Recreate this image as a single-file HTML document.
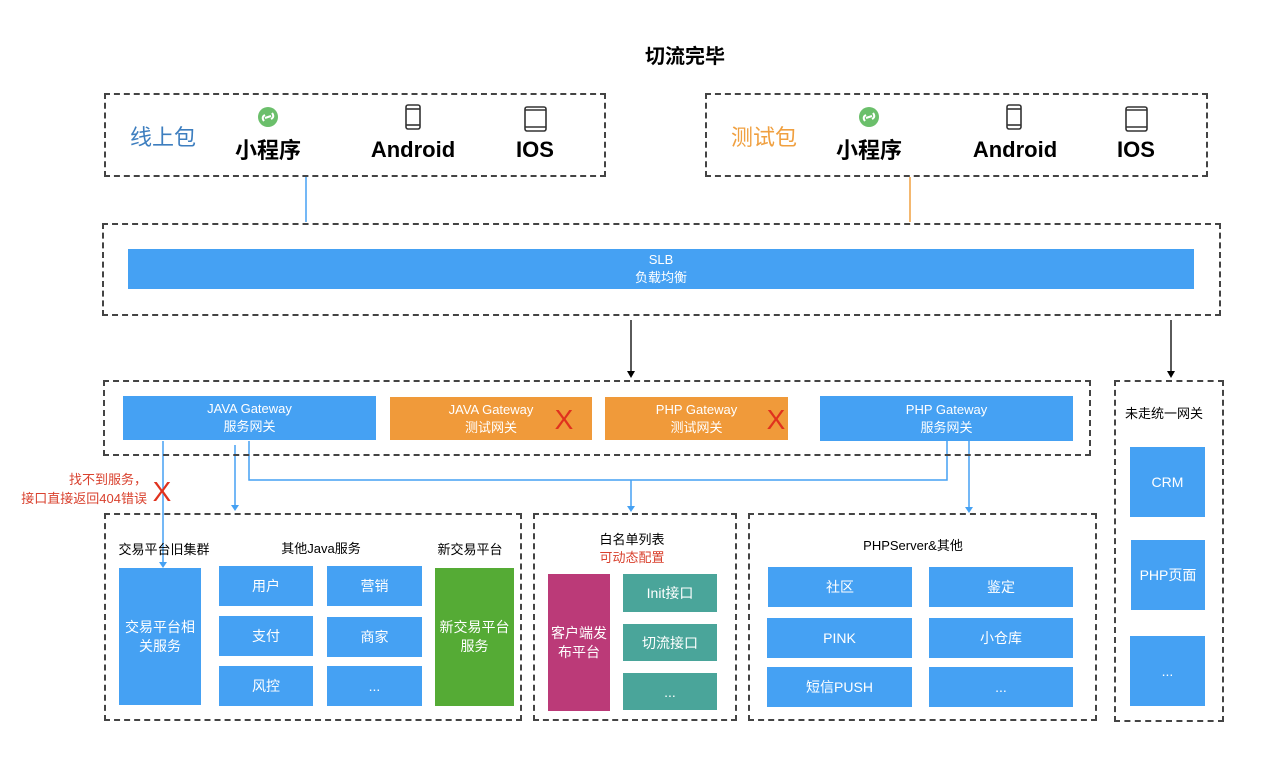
<!DOCTYPE html>
<html><head><meta charset="utf-8"><style>
body{margin:0;width:1280px;height:763px;background:#fff;position:relative;overflow:hidden;font-family:"Liberation Sans","Noto Sans CJK SC",sans-serif;}
.a{position:absolute;box-sizing:border-box;}
.d{border:2px dashed #444;}
.b{background:#45a1f3;color:#fff;display:flex;align-items:center;justify-content:center;text-align:center;font-size:14px;line-height:18px;}
.o{background:#f09a3a;}
.t{position:absolute;transform:translateX(-50%);white-space:nowrap;text-align:center;}
.x{position:absolute;color:#e0321e;font-size:28px;font-family:"Liberation Sans",sans-serif;transform:translate(-50%,-50%);}
</style></head><body>
<div class="t" style="left:685px;top:40px;font-size:20px;font-weight:bold;">切流完毕</div>

<div class="a d" style="left:104px;top:93px;width:502px;height:84px;"></div>
<div class="a d" style="left:705px;top:93px;width:503px;height:84px;"></div>
<div class="t" style="left:163px;top:120px;font-size:22px;color:#3d7ebf;">线上包</div>
<div class="t" style="left:764px;top:120px;font-size:22px;color:#f0a040;">测试包</div>

<svg class="a" style="left:0;top:0" width="1280" height="763">
<g fill="#6bbf6b"><circle cx="268" cy="117" r="10"/><circle cx="869" cy="117" r="10"/></g>
<g stroke="#fff" stroke-width="2" fill="none"><path d="M264 121 q-3 -4 1 -6 M272 113 q3 4 -1 6 M265 118 l6 -2"/><path d="M865 121 q-3 -4 1 -6 M873 113 q3 4 -1 6 M866 118 l6 -2"/></g>
<g stroke="#333" stroke-width="1.6" fill="none">
<rect x="406" y="105" width="14" height="24" rx="2"/><line x1="406" y1="109" x2="420" y2="109"/><line x1="406" y1="125" x2="420" y2="125"/>
<rect x="1007" y="105" width="14" height="24" rx="2"/><line x1="1007" y1="109" x2="1021" y2="109"/><line x1="1007" y1="125" x2="1021" y2="125"/>
<rect x="525" y="107" width="21" height="24" rx="2"/><line x1="525" y1="110" x2="546" y2="110"/><line x1="525" y1="127" x2="546" y2="127"/>
<rect x="1126" y="107" width="21" height="24" rx="2"/><line x1="1126" y1="110" x2="1147" y2="110"/><line x1="1126" y1="127" x2="1147" y2="127"/>
</g>
<line x1="306" y1="177" x2="306" y2="222" stroke="#45a1f3" stroke-width="1.5"/>
<line x1="910" y1="177" x2="910" y2="222" stroke="#f0a040" stroke-width="1.5"/>
<g stroke="#000" stroke-width="1.3"><line x1="631" y1="320" x2="631" y2="372"/><line x1="1171" y1="320" x2="1171" y2="372"/></g>
<g fill="#000"><path d="M627 371 L635 371 L631 378Z"/><path d="M1167 371 L1175 371 L1171 378Z"/></g>
<g stroke="#45a1f3" stroke-width="1.5" fill="none">
<path d="M163 441 V563"/><path d="M235 445 V506"/><path d="M249 441 V480 H947 V441"/><path d="M631 480 V507"/><path d="M969 441 V508"/>
</g>
<g fill="#45a1f3"><path d="M159 562 L167 562 L163 568Z"/><path d="M231 505 L239 505 L235 511Z"/><path d="M627 506 L635 506 L631 512Z"/><path d="M965 507 L973 507 L969 513Z"/></g>
</svg>

<div class="t" style="left:268px;top:133px;font-size:22px;font-weight:bold;">小程序</div>
<div class="t" style="left:413px;top:137px;font-size:22px;font-weight:bold;">Android</div>
<div class="t" style="left:535px;top:137px;font-size:22px;font-weight:bold;">IOS</div>
<div class="t" style="left:869px;top:133px;font-size:22px;font-weight:bold;">小程序</div>
<div class="t" style="left:1015px;top:137px;font-size:22px;font-weight:bold;">Android</div>
<div class="t" style="left:1136px;top:137px;font-size:22px;font-weight:bold;">IOS</div>

<div class="a d" style="left:102px;top:223px;width:1119px;height:93px;"></div>
<div class="a b" style="left:128px;top:249px;width:1066px;height:40px;font-size:13px;">SLB<br>负载均衡</div>

<div class="a d" style="left:103px;top:380px;width:988px;height:76px;"></div>
<div class="a b" style="left:123px;top:396px;width:253px;height:44px;font-size:13px;">JAVA Gateway<br>服务网关</div>
<div class="a b o" style="left:390px;top:397px;width:202px;height:43px;font-size:13px;">JAVA Gateway<br>测试网关</div>
<div class="a b o" style="left:605px;top:397px;width:183px;height:43px;font-size:13px;">PHP Gateway<br>测试网关</div>
<div class="a b" style="left:820px;top:396px;width:253px;height:45px;font-size:13px;">PHP Gateway<br>服务网关</div>
<div class="x" style="left:564px;top:420px;">X</div>
<div class="x" style="left:776px;top:420px;">X</div>

<div class="a" style="left:0;top:470px;width:147px;text-align:right;color:#d9412e;font-size:13px;line-height:19px;">找不到服务，<br>接口直接返回404错误</div>
<div class="x" style="left:162px;top:492px;">X</div>

<div class="a d" style="left:1114px;top:380px;width:110px;height:342px;"></div>
<div class="t" style="left:1164px;top:403px;font-size:13px;">未走统一网关</div>
<div class="a b" style="left:1130px;top:447px;width:75px;height:70px;">CRM</div>
<div class="a b" style="left:1131px;top:540px;width:74px;height:70px;">PHP页面</div>
<div class="a b" style="left:1130px;top:636px;width:75px;height:70px;">...</div>

<div class="a d" style="left:104px;top:513px;width:418px;height:208px;"></div>
<div class="t" style="left:164px;top:539px;font-size:13px;">交易平台旧集群</div>
<div class="t" style="left:321px;top:538px;font-size:13px;">其他Java服务</div>
<div class="t" style="left:470px;top:539px;font-size:13px;">新交易平台</div>
<div class="a b" style="left:119px;top:568px;width:82px;height:137px;line-height:19px;">交易平台相<br>关服务</div>
<div class="a b" style="left:219px;top:566px;width:94px;height:40px;">用户</div>
<div class="a b" style="left:327px;top:566px;width:95px;height:40px;">营销</div>
<div class="a b" style="left:219px;top:616px;width:94px;height:40px;">支付</div>
<div class="a b" style="left:327px;top:617px;width:95px;height:40px;">商家</div>
<div class="a b" style="left:219px;top:666px;width:94px;height:40px;">风控</div>
<div class="a b" style="left:327px;top:666px;width:95px;height:40px;">...</div>
<div class="a b" style="left:435px;top:568px;width:79px;height:138px;background:#55ab35;line-height:19px;">新交易平台<br>服务</div>

<div class="a d" style="left:533px;top:513px;width:204px;height:208px;"></div>
<div class="t" style="left:632px;top:529px;font-size:13px;">白名单列表</div>
<div class="t" style="left:632px;top:547px;font-size:13px;color:#d9412e;">可动态配置</div>
<div class="a b" style="left:548px;top:574px;width:62px;height:137px;background:#bb3a78;line-height:19px;">客户端发<br>布平台</div>
<div class="a b" style="left:623px;top:574px;width:94px;height:38px;background:#4aa59a;">Init接口</div>
<div class="a b" style="left:623px;top:624px;width:94px;height:37px;background:#4aa59a;">切流接口</div>
<div class="a b" style="left:623px;top:673px;width:94px;height:37px;background:#4aa59a;">...</div>

<div class="a d" style="left:748px;top:513px;width:349px;height:208px;"></div>
<div class="t" style="left:913px;top:535px;font-size:13px;">PHPServer&amp;其他</div>
<div class="a b" style="left:768px;top:567px;width:144px;height:40px;">社区</div>
<div class="a b" style="left:929px;top:567px;width:144px;height:40px;">鉴定</div>
<div class="a b" style="left:767px;top:618px;width:145px;height:40px;">PINK</div>
<div class="a b" style="left:929px;top:618px;width:144px;height:40px;">小仓库</div>
<div class="a b" style="left:767px;top:667px;width:145px;height:40px;">短信PUSH</div>
<div class="a b" style="left:929px;top:667px;width:144px;height:40px;">...</div>
</body></html>
